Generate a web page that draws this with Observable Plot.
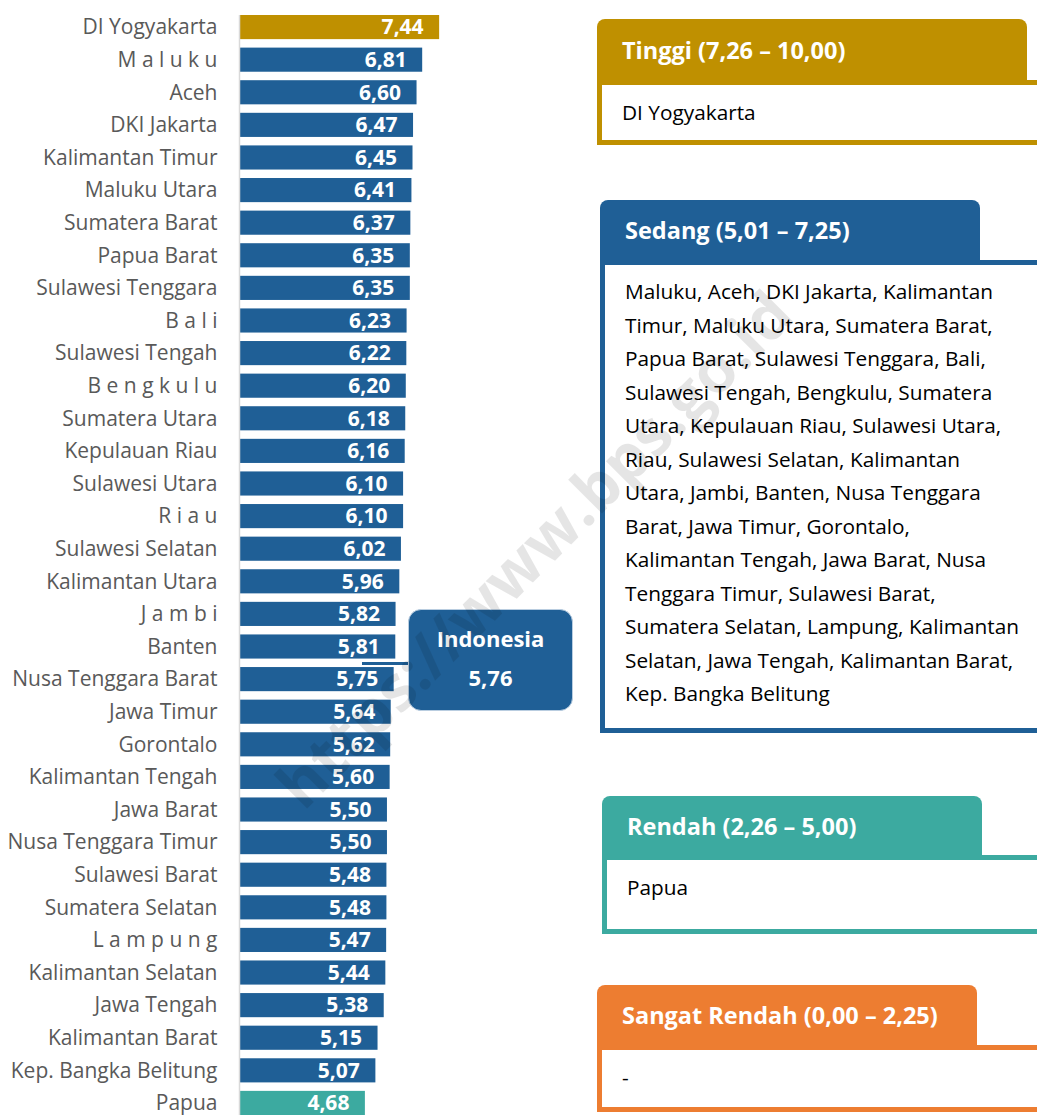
<!DOCTYPE html>
<html><head><meta charset="utf-8">
<script src="https://cdn.jsdelivr.net/npm/d3@7"></script>
<script src="https://cdn.jsdelivr.net/npm/@observablehq/plot@0.6"></script>
<style>
body{margin:0;background:#fff;}
#wrap{position:relative;width:1037px;height:1115px;overflow:hidden;font-family:"Open Sans",sans-serif;}
#chart{position:absolute;left:0;top:0;}
.tab{position:absolute;color:#fff;font-weight:bold;font-size:23.5px;box-sizing:border-box;padding-left:25px;border-radius:8px 8px 0 0;}
.box{position:absolute;background:#fff;box-sizing:border-box;border:5px solid;font-size:20.8px;color:#000;padding-left:20px;white-space:nowrap;}
#callout{position:absolute;left:408px;top:609px;width:165px;height:102px;box-sizing:border-box;background:#1F5F96;border:1px solid #b9cde0;border-radius:13px;color:#fff;font-weight:bold;font-size:22px;text-align:center;}
#conn{position:absolute;left:362px;top:662px;width:46px;height:2.5px;background:#1F5F96;}
#wm{position:absolute;left:533px;top:548px;transform:translate(-50%,-50%) rotate(-45deg);font-size:63px;font-weight:bold;color:rgba(0,0,0,0.1);white-space:nowrap;pointer-events:none;}
</style></head>
<body>
<div id="wrap">
  <div id="chart"></div>
  <div id="conn"></div>
  <div id="callout"><div style="position:absolute;left:0;right:0;top:13px;">Indonesia</div><div id="indoVal" style="position:absolute;left:0;right:0;top:52px;"></div></div>

  <div class="tab" style="left:597px;top:19px;width:430px;height:62px;line-height:62px;background:#BF9000;">Tinggi (7,26 – 10,00)</div>
  <div class="box" style="left:597px;top:80px;width:470px;height:65px;border-color:#BF9000;line-height:55px;">DI Yogyakarta</div>

  <div class="tab" style="left:600px;top:200px;width:380px;height:61px;line-height:61px;background:#1F5F96;">Sedang (5,01 – 7,25)</div>
  <div class="box" style="left:600px;top:260px;width:470px;height:473px;border-color:#1F5F96;line-height:33.5px;padding-top:10px;">Maluku, Aceh, DKI Jakarta, Kalimantan<br>Timur, Maluku Utara, Sumatera Barat,<br>Papua Barat, Sulawesi Tenggara, Bali,<br>Sulawesi Tengah, Bengkulu, Sumatera<br>Utara, Kepulauan Riau, Sulawesi Utara,<br>Riau, Sulawesi Selatan, Kalimantan<br>Utara, Jambi, Banten, Nusa Tenggara<br>Barat, Jawa Timur, Gorontalo,<br>Kalimantan Tengah, Jawa Barat, Nusa<br>Tenggara Timur, Sulawesi Barat,<br>Sumatera Selatan, Lampung, Kalimantan<br>Selatan, Jawa Tengah, Kalimantan Barat,<br>Kep. Bangka Belitung</div>

  <div class="tab" style="left:602px;top:796px;width:380px;height:60px;line-height:60px;background:#3CAAA0;">Rendah (2,26 – 5,00)</div>
  <div class="box" style="left:602px;top:855px;width:470px;height:79px;border-color:#3CAAA0;line-height:55px;">Papua</div>

  <div class="tab" style="left:597px;top:985px;width:380px;height:61px;line-height:61px;background:#ED7D31;">Sangat Rendah (0,00 – 2,25)</div>
  <div class="box" style="left:597px;top:1045px;width:470px;height:67px;border-color:#ED7D31;line-height:55px;">-</div>

  <div id="wm">https://www.bps.go.id</div>
</div>
<script>
const provinsi = ["DI Yogyakarta","M a l u k u","Aceh","DKI Jakarta","Kalimantan Timur","Maluku Utara","Sumatera Barat","Papua Barat","Sulawesi Tenggara","B a l i","Sulawesi Tengah","B e n g k u l u","Sumatera Utara","Kepulauan Riau","Sulawesi Utara","R i a u","Sulawesi Selatan","Kalimantan Utara","J a m b i","Banten","Nusa Tenggara Barat","Jawa Timur","Gorontalo","Kalimantan Tengah","Jawa Barat","Nusa Tenggara Timur","Sulawesi Barat","Sumatera Selatan","L a m p u n g","Kalimantan Selatan","Jawa Tengah","Kalimantan Barat","Kep. Bangka Belitung","Papua"];
const nilai = [7.44,6.81,6.60,6.47,6.45,6.41,6.37,6.35,6.35,6.23,6.22,6.20,6.18,6.16,6.10,6.10,6.02,5.96,5.82,5.81,5.75,5.64,5.62,5.60,5.50,5.50,5.48,5.48,5.47,5.44,5.38,5.15,5.07,4.68];
const indonesia = 5.76;
const kategoriNama = ["Tinggi","Sedang","Rendah","Sangat Rendah"];
const kategoriWarna = ["#BF9000","#1F5F96","#3CAAA0","#ED7D31"];

const fmt = v => v.toFixed(2).replace(".", ",");
const kat = v => v > 7.25 ? "Tinggi" : v > 5 ? "Sedang" : v > 2.25 ? "Rendah" : "Sangat Rendah";
const data = provinsi.map((p, i) => ({provinsi: p, nilai: nilai[i], kategori: kat(nilai[i])}));
document.getElementById("indoVal").textContent = fmt(indonesia);

const chart = Plot.plot({
  width: 1037,
  height: 1115,
  marginLeft: 239,
  marginRight: 529,
  marginTop: 15,
  marginBottom: 0,
  style: {fontFamily: "'Open Sans', sans-serif", color: "#595959", background: "transparent", overflow: "visible"},
  x: {domain: [0, 10], axis: null},
  y: {domain: provinsi, paddingInner: 0.26, paddingOuter: 0, round: false, axis: null},
  color: {domain: kategoriNama, range: kategoriWarna},
  marks: [
    Plot.barX(data, {y: "provinsi", x: "nilai", fill: "kategori"}),
    Plot.text(data, {y: "provinsi", x: "nilai", text: d => fmt(d.nilai), textAnchor: "end", dx: -16, fill: "white", fontWeight: "bold", fontSize: 21}),
    Plot.ruleX([0], {stroke: "#d9d9d9", strokeWidth: 1.5}),
    Plot.axisY({tickSize: 0, tickPadding: 22, fontSize: 21, label: null})
  ]
});
document.getElementById("chart").appendChild(chart);
</script>
</body></html>
